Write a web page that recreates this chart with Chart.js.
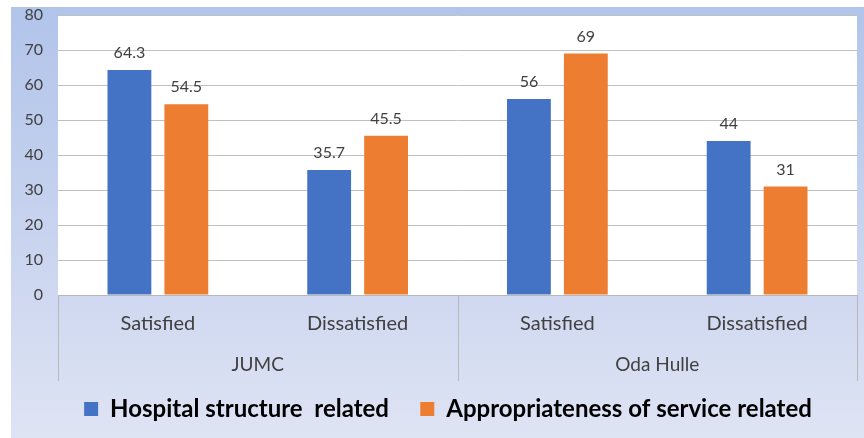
<!DOCTYPE html>
<html>
<head>
<meta charset="utf-8">
<script src="https://cdn.jsdelivr.net/npm/chart.js@4.4.0/dist/chart.umd.min.js"></script>
<style>
  html, body { margin: 0; padding: 0; background: #fff; }
  #wrap { width: 864px; height: 438px; }
</style>
</head>
<body>
<div id="wrap"><canvas id="satisfaction-chart"></canvas></div>
<script>
// Data
const categories = ['Satisfied', 'Dissatisfied', 'Satisfied', 'Dissatisfied'];
const groups = ['JUMC', 'Oda Hulle'];
const hospitalStructure = [64.3, 35.7, 56, 44];
const appropriateness = [54.5, 45.5, 69, 31];
const seriesNames = ['Hospital structure  related', 'Appropriateness of service related'];

const axisText = '#404040';

// Frame background + white plot area
const backgroundPlugin = {
    id: 'frameBackground',
    beforeDraw(chart) {
        const ctx = chart.ctx;
        const area = chart.chartArea;
        ctx.save();
        ctx.fillStyle = '#ffffff';
        ctx.fillRect(0, 0, chart.width, chart.height);
        const grad = ctx.createLinearGradient(0, 7, 0, chart.height);
        grad.addColorStop(0, '#b1c4ea');
        grad.addColorStop(0.55, '#c9d4ef');
        grad.addColorStop(1, '#dfe4f4');
        ctx.fillStyle = grad;
        ctx.fillRect(11, 7, chart.width - 11, chart.height - 7);
        ctx.fillStyle = '#ffffff';
        ctx.fillRect(area.left, area.top, area.right - area.left, area.bottom - area.top);
        ctx.restore();
    }
};

// Group separators below the axis
const groupLinesPlugin = {
    id: 'groupLines',
    afterDraw(chart) {
        const x2 = chart.scales.x2;
        const ctx = chart.ctx;
        const step = x2.width / groups.length;
        ctx.save();
        ctx.strokeStyle = '#b8b8b8';
        ctx.lineWidth = 1;
        for (let i = 0; i <= groups.length; i++) {
            const px = Math.round(x2.left + i * step) + 0.5;
            ctx.beginPath();
            ctx.moveTo(px, chart.chartArea.bottom);
            ctx.lineTo(px, x2.bottom - 8);
            ctx.stroke();
        }
        ctx.restore();
    }
};

// Value labels above bars
const valueLabelsPlugin = {
    id: 'valueLabels',
    afterDatasetsDraw(chart) {
        const ctx = chart.ctx;
        ctx.save();
        ctx.font = '16px Lato';
        ctx.fillStyle = axisText;
        ctx.textAlign = 'center';
        ctx.textBaseline = 'alphabetic';
        chart.data.datasets.forEach((ds, di) => {
            chart.getDatasetMeta(di).data.forEach((bar, i) => {
                ctx.fillText(String(ds.data[i]), bar.x, bar.y - 12);
            });
        });
        ctx.restore();
    }
};

// Legend sits a little right of centre in the original
const legendShiftPlugin = {
    id: 'legendShift',
    afterLayout(chart) {
        chart.legend.left += 14;
        chart.legend.right += 14;
    }
};

const chartCtx = document.querySelector('#satisfaction-chart').getContext('2d');

const satisfactionGraph = new Chart(chartCtx, {
    type: 'bar',
    data: {
        labels: categories,
        datasets: [
            {
                label: seriesNames[0],
                data: hospitalStructure,
                backgroundColor: '#4472c4',
                categoryPercentage: 0.57,
                barPercentage: 0.77
            },
            {
                label: seriesNames[1],
                data: appropriateness,
                backgroundColor: '#ed7d31',
                categoryPercentage: 0.57,
                barPercentage: 0.77
            }
        ]
    },
    options: {
        responsive: true,
        maintainAspectRatio: false,
        animation: false,
        layout: { padding: { left: 11, top: 15, right: 7, bottom: 7 } },
        scales: {
            y: {
                min: 0,
                max: 80,
                ticks: { stepSize: 10, padding: 15, color: axisText, font: { family: 'Lato', size: 16 } },
                grid: { color: '#c0c0c0', drawTicks: false },
                border: { display: false },
                afterFit: s => { s.width = 47; s.paddingTop = 0; s.paddingBottom = 0; }
            },
            x: {
                weight: 0,
                ticks: { padding: 17, color: axisText, font: { family: 'Lato', size: 20 } },
                grid: { display: false, drawTicks: false },
                border: { display: true, color: '#b8b8b8' },
                afterFit: s => { s.height = 44; }
            },
            x2: {
                type: 'category',
                labels: groups,
                position: 'bottom',
                weight: 1,
                ticks: { padding: 14, color: axisText, font: { family: 'Lato', size: 19 } },
                grid: { display: false, drawTicks: false },
                border: { display: false },
                afterFit: s => { s.height = 50; }
            }
        },
        plugins: {
            legend: {
                position: 'bottom',
                labels: {
                    boxWidth: 14,
                    boxHeight: 14,
                    padding: 8,
                    color: '#000',
                    font: { family: 'Lato', size: 24, weight: 'bold' },
                    generateLabels: chart => {
                        const items = Chart.defaults.plugins.legend.labels.generateLabels(chart);
                        items[0].text = items[0].text + '    ';
                        return items;
                    }
                }
            },
            tooltip: { enabled: false }
        }
    },
    plugins: [backgroundPlugin, groupLinesPlugin, valueLabelsPlugin, legendShiftPlugin]
});
</script>
</body>
</html>
